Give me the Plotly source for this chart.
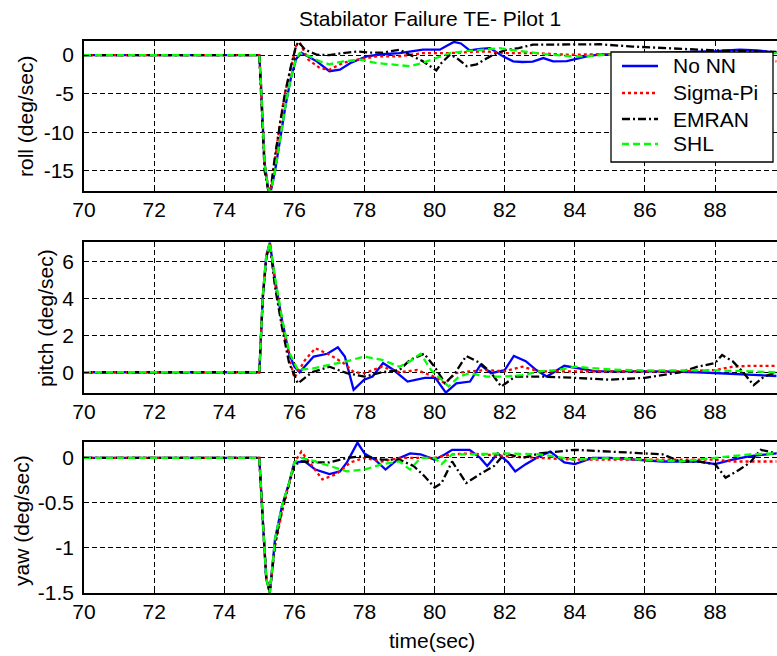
import plotly.graph_objects as go

# ---------------- data ----------------
SERIES_NAMES = ["No NN", "Sigma-Pi", "EMRAN", "SHL"]
X_TICKS = [70, 72, 74, 76, 78, 80, 82, 84, 86, 88]
ROLL_TICKS = [0, -5, -10, -15]
PITCH_TICKS = [0, 2, 4, 6]
YAW_TICKS = [0, -0.5, -1, -1.5]
YAW_TICK_TEXT = ["0", "-0.5", "-1", "-1.5"]

# roll (deg/sec)
ROLL_T_NONN = [70, 75.0, 75.05, 75.15, 75.25, 75.33, 75.45, 75.6, 75.75, 75.9, 76.05, 76.2, 76.4, 76.64, 77.0, 77.3, 77.6, 78.06, 78.5, 79.0, 79.67, 80.15, 80.35, 80.55, 80.75, 81.0, 81.3, 81.58, 81.95, 82.24, 82.5, 82.8, 83.1, 83.38, 83.77, 84.06, 84.4, 84.7, 85.2, 85.8, 86.5, 87.2, 88.0, 88.7, 89.2, 89.75]
ROLL_Y_NONN = [0, 0, -4, -14, -17.3, -17.6, -15, -10.5, -6.5, -3, -0.5, 0.3, -0.2, -0.82, -2.1, -1.9, -1.04, -0.17, 0.1, 0.26, 0.69, 0.69, 1.2, 1.7, 1.5, 0.6, 0.8, 0.9, -0.17, -0.82, -0.9, -0.85, -0.39, -0.82, -0.8, -0.5, -0.1, 0.04, 0.1, 0.2, 0.3, 0.4, 0.5, 0.69, 0.6, 0.3]
ROLL_T_SIGMA = [70, 75.0, 75.05, 75.15, 75.25, 75.33, 75.45, 75.6, 75.73, 75.9, 76.05, 76.15, 76.4, 76.73, 77.0, 77.4, 77.8, 78.35, 79.0, 79.67, 80.44, 81.4, 82.06, 82.8, 83.8, 84.7, 85.5, 86.5, 87.5, 88.5, 89.2, 89.75]
ROLL_Y_SIGMA = [0, 0, -4, -14, -17.2, -17.4, -13.5, -8.5, -5, -1.5, 1.2, 1.6, -0.6, -1.7, -1.9, -1.0, -0.6, -0.17, -0.17, 0.26, 0.26, 0.47, 0.26, 0.26, 0.04, 0.1, 0.1, 0.1, 0.0, -0.2, -0.5, -0.82]
ROLL_T_EMRAN = [70, 75.0, 75.05, 75.15, 75.25, 75.33, 75.45, 75.6, 75.73, 75.9, 76.05, 76.12, 76.3, 76.64, 77.0, 77.4, 77.8, 78.16, 78.5, 79.0, 79.67, 80.05, 80.2, 80.44, 80.63, 80.92, 81.2, 81.5, 81.77, 82.06, 82.4, 82.8, 83.77, 84.7, 85.65, 86.6, 87.1, 88.0, 89.0, 89.75]
ROLL_Y_EMRAN = [0, 0, -5, -15, -17.4, -17.3, -13, -8.5, -5, -1.5, 1.2, 1.7, 0.7, 0.04, 0.0, 0.26, 0.47, 0.3, 0.3, 0.69, -0.82, -2.0, -1.0, 0.04, -0.39, -1.45, -1.2, -0.4, 0.26, 0.69, 0.9, 1.34, 1.4, 1.4, 1.1, 0.9, 0.7, 0.6, 0.5, 0.4]
ROLL_T_SHL = [70, 75.0, 75.05, 75.15, 75.25, 75.33, 75.45, 75.6, 75.75, 75.9, 76.05, 76.15, 76.4, 76.73, 77.0, 77.4, 77.9, 78.35, 78.82, 79.3, 79.67, 80.05, 80.44, 80.82, 81.4, 81.86, 82.14, 82.6, 83.3, 83.95, 84.3, 84.9, 85.5, 86.5, 87.5, 88.5, 89.2, 89.75]
ROLL_Y_SHL = [0, 0, -4, -14, -17.3, -17.7, -15, -10.5, -6.5, -3, -0.5, 0.26, -0.1, -0.82, -1.2, -0.82, -0.6, -1.04, -1.2, -1.45, -1.0, -0.4, 0.26, 0.47, 0.69, 0.9, 0.69, 0.47, 0.04, -0.17, -0.17, 0.04, 0.1, 0.1, 0.1, 0.2, 0.26, 0.26]

# pitch (deg/sec)
PITCH_T_NONN = [70, 75.0, 75.1, 75.2, 75.3, 75.45, 75.65, 75.85, 76.0, 76.15, 76.55, 76.94, 77.24, 77.44, 77.69, 77.99, 78.23, 78.53, 78.83, 79.23, 79.72, 80.02, 80.32, 80.62, 81.01, 81.31, 81.61, 82.0, 82.26, 82.6, 82.9, 83.2, 83.7, 84.1, 84.6, 85.5, 86.5, 87.5, 88.06, 89.0, 89.75]
PITCH_Y_NONN = [0, 0, 4.1, 6.3, 7.0, 5.0, 2.8, 1.0, 0.3, 0.0, 0.85, 1.0, 1.35, 0.85, -0.95, -0.4, -0.23, 0.5, 0.12, -0.5, -0.3, -0.3, -1.1, -0.6, -0.5, 0.4, -0.05, 0.12, 0.88, 0.6, 0.12, -0.23, 0.35, 0.2, 0.05, 0.05, 0.05, 0.0, -0.05, -0.1, -0.2]
PITCH_T_SIGMA = [70, 75.0, 75.1, 75.2, 75.3, 75.45, 75.65, 75.85, 76.0, 76.3, 76.6, 77.0, 77.4, 77.7, 78.0, 78.5, 79.0, 79.5, 80.0, 80.3, 80.6, 81.0, 81.5, 82.0, 82.5, 83.0, 84.0, 85.0, 86.0, 87.0, 88.0, 88.5, 89.0, 89.75]
PITCH_Y_SIGMA = [0, 0, 4.1, 6.3, 7.0, 4.8, 2.6, 0.8, -0.3, 0.65, 1.3, 0.95, 0.5, 0.0, -0.05, 0.3, 0.0, 0.12, -0.25, -0.6, -0.05, 0.05, 0.12, 0.05, 0.3, 0.05, 0.05, 0.05, 0.05, 0.05, 0.12, 0.3, 0.35, 0.35]
PITCH_T_EMRAN = [70, 75.0, 75.1, 75.2, 75.3, 75.45, 75.65, 75.85, 76.1, 76.5, 77.0, 77.5, 78.0, 78.5, 79.0, 79.3, 79.7, 80.0, 80.3, 80.6, 80.9, 81.3, 81.6, 81.9, 82.3, 83.0, 84.0, 85.0, 86.0, 87.0, 87.5, 88.0, 88.2, 88.5, 88.8, 89.1, 89.4, 89.75]
PITCH_Y_EMRAN = [0, 0, 4.0, 6.2, 6.9, 4.6, 2.4, 0.5, -0.6, 0.0, 0.3, -0.05, -0.23, 0.0, 0.12, 0.67, 1.0, 0.3, -0.6, 0.0, 0.88, 0.5, 0.0, -0.77, -0.23, -0.23, -0.3, -0.4, -0.3, 0.0, 0.3, 0.5, 0.93, 0.6, 0.0, -0.7, -0.23, 0.0]
PITCH_T_SHL = [70, 75.0, 75.1, 75.2, 75.3, 75.45, 75.65, 75.85, 76.1, 76.5, 77.0, 77.5, 78.0, 78.5, 79.0, 79.3, 79.6, 79.9, 80.2, 80.4, 80.7, 81.0, 81.5, 82.0, 82.5, 83.0, 83.5, 84.0, 85.0, 86.0, 87.0, 88.0, 89.0, 89.75]
PITCH_Y_SHL = [0, 0, 4.1, 6.3, 7.0, 5.1, 2.9, 1.1, 0.12, 0.2, 0.4, 0.6, 0.85, 0.67, 0.3, 0.6, 1.0, 0.12, -0.4, -0.77, -0.23, -0.05, -0.23, -0.23, -0.15, 0.05, 0.12, 0.3, 0.15, 0.1, 0.1, 0.1, 0.05, 0.0]

# yaw (deg/sec)
YAW_T_NONN = [70, 75.0, 75.1, 75.2, 75.3, 75.45, 75.65, 75.85, 76.0, 76.3, 76.6, 77.0, 77.3, 77.5, 77.8, 78.0, 78.3, 78.6, 79.0, 79.3, 79.6, 80.0, 80.3, 80.5, 81.0, 81.3, 81.5, 81.8, 82.1, 82.3, 82.6, 83.0, 83.3, 83.7, 84.0, 84.5, 85.0, 86.5, 87.5, 88.0, 88.5, 89.0, 89.75]
YAW_Y_NONN = [0, 0, -0.7, -1.35, -1.5, -0.9, -0.53, -0.28, -0.05, -0.04, -0.13, -0.18, -0.15, -0.05, 0.17, 0.05, -0.02, -0.13, 0.0, 0.05, 0.04, -0.02, 0.04, 0.09, 0.09, 0.0, -0.09, 0.05, -0.05, -0.15, -0.07, 0.02, 0.07, -0.05, -0.07, 0.0, 0.0, -0.04, -0.04, -0.07, -0.02, 0.02, 0.05]
YAW_T_SIGMA = [70, 75.0, 75.1, 75.2, 75.3, 75.45, 75.65, 75.85, 76.0, 76.2, 76.5, 76.8, 77.2, 77.6, 78.0, 78.5, 79.0, 80.0, 80.5, 81.0, 82.0, 83.0, 84.0, 85.0, 86.0, 87.0, 88.0, 88.5, 89.0, 89.75]
YAW_Y_SIGMA = [0, 0, -0.7, -1.35, -1.48, -0.98, -0.6, -0.3, -0.05, 0.07, -0.09, -0.24, -0.18, -0.05, 0.0, -0.04, 0.0, 0.0, 0.04, 0.05, 0.02, 0.0, -0.02, -0.02, -0.02, -0.02, -0.02, -0.04, -0.04, -0.04]
YAW_T_EMRAN = [70, 75.0, 75.1, 75.2, 75.3, 75.45, 75.65, 75.85, 76.0, 76.2, 76.6, 77.0, 77.5, 78.0, 78.5, 79.0, 79.4, 79.7, 80.0, 80.2, 80.5, 80.9, 81.3, 81.7, 82.0, 82.5, 83.0, 84.0, 85.0, 86.0, 86.5, 87.0, 87.5, 88.0, 88.3, 88.7, 89.0, 89.3, 89.75]
YAW_Y_EMRAN = [0, 0, -0.7, -1.35, -1.5, -0.95, -0.57, -0.3, -0.08, -0.04, -0.05, -0.05, 0.0, 0.02, -0.02, -0.02, -0.09, -0.2, -0.33, -0.28, -0.04, -0.28, -0.18, -0.09, 0.05, 0.0, 0.05, 0.09, 0.07, 0.05, 0.04, -0.04, -0.04, -0.07, -0.22, -0.13, -0.05, 0.09, 0.05]
YAW_T_SHL = [70, 75.0, 75.1, 75.2, 75.3, 75.45, 75.65, 75.85, 76.0, 76.2, 76.6, 77.0, 77.5, 78.0, 78.5, 79.0, 79.3, 79.6, 80.0, 80.2, 80.5, 81.0, 82.0, 83.0, 84.0, 85.0, 86.0, 87.0, 88.0, 89.0, 89.75]
YAW_Y_SHL = [0, 0, -0.7, -1.35, -1.5, -0.9, -0.53, -0.28, -0.05, 0.0, -0.04, -0.09, -0.15, -0.13, -0.07, -0.04, -0.13, 0.0, 0.0, -0.07, 0.04, 0.04, 0.05, 0.04, -0.02, 0.0, -0.02, -0.04, 0.0, 0.04, 0.05]

# ---------------- figure ----------------
W, H = 777, 656
FONT = "Liberation Sans, Arial, sans-serif"
FS = 21
COLORS = ["#0000ff", "#ff0000", "#000000", "#00ff00"]
DASHES = ["solid", "3px,3px", "8px,3px,2px,3px", "7px,4px"]
LW = 2.3

panels = [
    ([ROLL_T_NONN, ROLL_T_SIGMA, ROLL_T_EMRAN, ROLL_T_SHL],
     [ROLL_Y_NONN, ROLL_Y_SIGMA, ROLL_Y_EMRAN, ROLL_Y_SHL]),
    ([PITCH_T_NONN, PITCH_T_SIGMA, PITCH_T_EMRAN, PITCH_T_SHL],
     [PITCH_Y_NONN, PITCH_Y_SIGMA, PITCH_Y_EMRAN, PITCH_Y_SHL]),
    ([YAW_T_NONN, YAW_T_SIGMA, YAW_T_EMRAN, YAW_T_SHL],
     [YAW_Y_NONN, YAW_Y_SIGMA, YAW_Y_EMRAN, YAW_Y_SHL]),
]

fig = go.Figure()
for p, (ts, ys) in enumerate(panels):
    sfx = "" if p == 0 else str(p + 1)
    for i in range(4):
        fig.add_trace(go.Scatter(
            x=ts[i], y=ys[i], mode="lines", name=SERIES_NAMES[i],
            showlegend=False,
            line=dict(color=COLORS[i], width=LW, dash=DASHES[i]),
            xaxis="x" + sfx, yaxis="y" + sfx,
        ))

def py(px):
    return 1 - px / H

def px_(x):
    return x / W

x_dom = [84 / W, 1.0]
x_range = [70, 70 + (W - 84) / 35.06]
y_doms = [[py(191), py(41)], [py(393), py(242)], [py(593), py(442)]]
y_ranges = [[-17.63, 1.82], [-1.12, 7.04], [-1.505, 0.177]]
y_tickvals = [ROLL_TICKS, PITCH_TICKS, YAW_TICKS]
y_ticktext = [[str(v) for v in ROLL_TICKS], [str(v) for v in PITCH_TICKS], YAW_TICK_TEXT]

common = dict(
    showline=True, linecolor="black", linewidth=1.5,
    ticks="inside", ticklen=5, tickcolor="black", tickwidth=1,
    showgrid=True, gridcolor="black", gridwidth=1.3, griddash="5px,3px",
    zeroline=False, automargin=False,
    tickfont=dict(family=FONT, size=FS, color="black"),
)

layout = dict(
    template="none",
    width=W, height=H, margin=dict(l=0, r=0, t=0, b=0, pad=0),
    paper_bgcolor="white", plot_bgcolor="white",
    font=dict(family=FONT, size=FS, color="black"),
    showlegend=False,
)
for p in range(3):
    sfx = "" if p == 0 else str(p + 1)
    layout["xaxis" + sfx] = dict(
        common, domain=x_dom, range=x_range, anchor="y" + sfx,
        tickvals=X_TICKS, ticktext=[str(v) for v in X_TICKS],
        mirror="ticks", ticklabelstandoff=-1,
    )
    layout["yaxis" + sfx] = dict(
        common, domain=y_doms[p], range=y_ranges[p], anchor="x" + sfx,
        tickvals=y_tickvals[p], ticktext=y_ticktext[p], mirror=False,
        ticklabelstandoff=4,
    )

fig.update_layout(**layout)

# legend box (drawn in paper space, like the MATLAB legend)
LEG_L, LEG_R, LEG_T, LEG_B = 611, 773, 52, 162
LEG_ROWS = [66, 93, 119, 144]
fig.add_shape(type="rect", xref="paper", yref="paper",
              x0=px_(LEG_L), x1=px_(LEG_R), y0=py(LEG_B), y1=py(LEG_T),
              fillcolor="white", line=dict(color="black", width=1.3), layer="above")
for i, name in enumerate(SERIES_NAMES):
    yy = py(LEG_ROWS[i])
    fig.add_shape(type="line", xref="paper", yref="paper",
                  x0=px_(622), x1=px_(658), y0=yy, y1=yy, layer="above",
                  line=dict(color=COLORS[i], width=LW, dash=DASHES[i]))
    fig.add_annotation(xref="paper", yref="paper", showarrow=False,
                       x=px_(671), y=yy, xanchor="left", yanchor="middle",
                       text=name, font=dict(family=FONT, size=FS, color="black"))

annots = [
    dict(text="Stabilator Failure TE- Pilot 1", x=430 / W, y=py(18)),
    dict(text="time(sec)", x=432 / W, y=py(640)),
    dict(text="roll (deg/sec)", x=25 / W, y=py(117), textangle=-90),
    dict(text="pitch (deg/sec)", x=45 / W, y=py(318), textangle=-90),
    dict(text="yaw (deg/sec)", x=21 / W, y=py(521), textangle=-90),
]
for a in annots:
    fig.add_annotation(xref="paper", yref="paper", showarrow=False,
                       xanchor="center", yanchor="middle",
                       font=dict(family=FONT, size=FS, color="black"), **a)

fig.write_html("out.html", config={"displayModeBar": False},
               post_script="document.body.style.margin='0';")
